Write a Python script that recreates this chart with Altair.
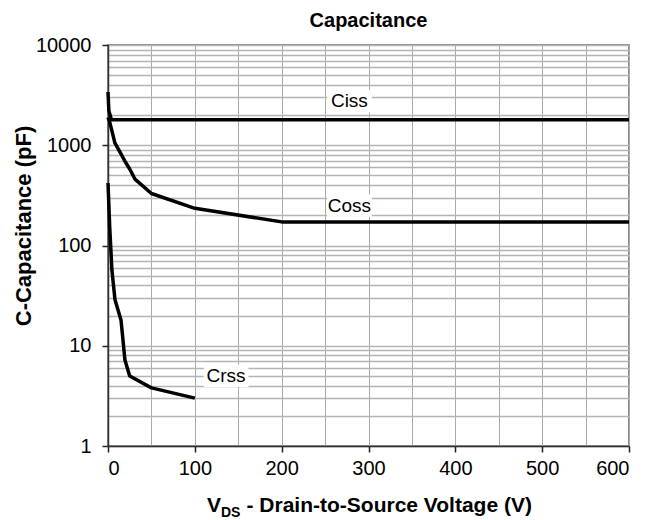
import altair as alt
import pandas as pd

# ---- data ----
ciss_v = [0, 1, 4, 600]
ciss_c = [3400, 2200, 1800, 1800]
coss_v = [0, 2, 8, 14, 20, 25, 31, 50, 100, 200, 600]
coss_c = [1900, 1700, 1050, 850, 680, 580, 460, 330, 235, 172, 172]
crss_v = [0, 2, 4.5, 8, 15, 19.5, 25, 50, 100]
crss_c = [420, 150, 57, 29, 18, 7.2, 5, 3.8, 3.0]

label_text = ["Ciss", "Coss", "Crss"]
label_v = [278, 278, 136]
label_c = [2750, 250, 5.0]

x_ticks = list(range(0, 601, 50))
y_ticks = [m * 10 ** k for k in range(4) for m in range(1, 10)] + [10000]
major_test = "indexof([1, 10, 100, 1000, 10000], datum.value) >= 0"

rows = []
for name, vs, cs in [("Ciss", ciss_v, ciss_c), ("Coss", coss_v, coss_c), ("Crss", crss_v, crss_c)]:
    for i, (v, c) in enumerate(zip(vs, cs)):
        rows.append({"series": name, "V": v, "C": c, "order": i})
df = pd.DataFrame(rows)
lab = pd.DataFrame({"text": label_text, "V": label_v, "C": label_c})

FONT = "Liberation Sans"

xscale = alt.Scale(domain=[0, 600], nice=False, zero=False)
yscale = alt.Scale(type="log", domain=[1, 10000], nice=False)

lines = alt.Chart(df).mark_line(color="black", strokeWidth=3.5, strokeJoin="round").encode(
    x=alt.X("V:Q", scale=xscale, title=None,
            axis=alt.Axis(values=x_ticks,
                          labelExpr="datum.value % 100 == 0 ? datum.label : ''",
                          tickColor={"condition": {"test": "datum.value % 100 == 0", "value": "#222222"},
                                     "value": "transparent"},
                          gridColor="#aaaaaa", gridWidth=1, labelPadding=6)),
    y=alt.Y("C:Q", scale=yscale, title=None,
            axis=alt.Axis(values=y_ticks, format="d", labelExpr=f"{major_test} ? datum.label : ''",
                          tickColor={"condition": {"test": major_test, "value": "#222222"},
                                     "value": "transparent"},
                          gridColor="#b4b4b4", gridWidth=1.5, labelPadding=11)),
    detail="series:N",
    order="order:Q",
)

boxes = alt.Chart(lab).mark_point(
    shape="M-1,-0.5L1,-0.5L1,0.5L-1,0.5Z", filled=True, color="white", opacity=1,
    strokeWidth=0, size=2000
).encode(x=alt.X("V:Q", scale=xscale), y=alt.Y("C:Q", scale=yscale))

texts = alt.Chart(lab).mark_text(font=FONT, fontSize=19, color="black").encode(
    x=alt.X("V:Q", scale=xscale), y=alt.Y("C:Q", scale=yscale), text="text:N"
)

one = pd.DataFrame({"a": [0]})


def label(txt, x, y, size, **kw):
    return alt.Chart(one).mark_text(font=FONT, fontSize=size, fontWeight="bold",
                                    baseline="alphabetic", color="black", **kw).encode(
        x=alt.value(x), y=alt.value(y), text=alt.value(txt))


title = label("Capacitance", 260.5, -18, 20, align="center")
ytitle = label("C-Capacitance (pF)", -77, 181, 22, align="center", angle=270)
xt_v = label("V", 99, 467, 21, align="left")
xt_ds = label("DS", 113, 472, 14, align="left")
xt_rest = label("- Drain-to-Source Voltage (V)", 138.5, 467, 21, align="left")

chart = alt.layer(lines, boxes, texts, title, ytitle, xt_v, xt_ds, xt_rest).properties(
    width=521, height=401,
    autosize=alt.AutoSizeParams(type="none"),
    padding={"left": 100, "top": 37, "right": 12, "bottom": 73},
).configure_view(
    stroke="#8a8a8a", strokeWidth=2
).configure_axis(
    labelFont=FONT, labelFontSize=20, labelColor="black",
    domainColor="#333333", domainWidth=1.5, tickSize=6, tickWidth=1.5,
)

chart.save("out.html", embed_options={"renderer": "svg", "actions": False})
